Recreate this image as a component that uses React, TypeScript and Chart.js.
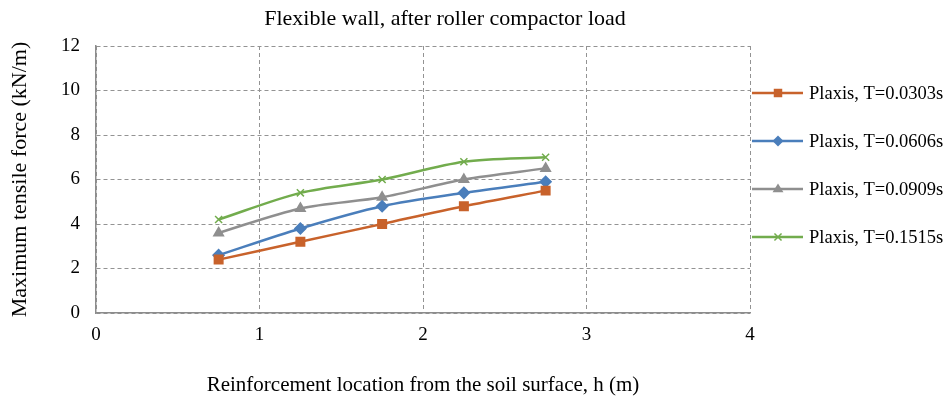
import React, { useEffect, useRef } from "react";
import { Chart, registerables } from "chart.js";

Chart.register(...registerables);

const xValues = [0.75, 1.25, 1.75, 2.25, 2.75];
const seriesNames = [
  "Plaxis, T=0.0303s",
  "Plaxis, T=0.0606s",
  "Plaxis, T=0.0909s",
  "Plaxis, T=0.1515s",
];
const s0303 = [2.4, 3.2, 4.0, 4.8, 5.5];
const s0606 = [2.6, 3.8, 4.8, 5.4, 5.9];
const s0909 = [3.6, 4.7, 5.2, 6.0, 6.5];
const s1515 = [4.2, 5.4, 6.0, 6.8, 7.0];
const seriesValues = [s0303, s0606, s0909, s1515];
const colors = ["#C8622B", "#4A7EBB", "#8F8F8F", "#72AC4D"];
const pointStyles = ["rect", "rectRot", "triangle", "crossRot"];
const pointRadii = [6, 5.5, 5.5, 5];

const titleText = "Flexible wall, after roller compactor load";
const xTitle = "Reinforcement location from the soil surface, h (m)";
const yTitle = "Maximum tensile force (kN/m)";
const FONT = "'Liberation Serif', 'Times New Roman', serif";

export default function App() {
  const ref = useRef<HTMLCanvasElement | null>(null);
  useEffect(() => {
    document.body.style.margin = "0";
    const canvas = ref.current!;
    const overlay = {
      id: "overlay",
      afterDraw(chart: any) {
        const ctx = chart.ctx;
        ctx.save();
        ctx.fillStyle = "#000";
        ctx.font = `22px ${FONT}`;
        ctx.textAlign = "center";
        ctx.textBaseline = "middle";
        ctx.fillText(titleText, 445, 19);
        // legend
        ctx.textAlign = "left";
        ctx.font = `18.5px ${FONT}`;
        const rows = [93, 141, 189, 237];
        seriesNames.forEach((name, i) => {
          const y = rows[i];
          ctx.strokeStyle = colors[i];
          ctx.lineWidth = 2.5;
          ctx.beginPath();
          ctx.moveTo(752, y);
          ctx.lineTo(803, y);
          ctx.stroke();
          ctx.fillStyle = colors[i];
          ctx.strokeStyle = colors[i];
          ctx.lineWidth = 1.5;
          drawMarker(ctx, pointStyles[i], pointRadii[i], 778, y);
          ctx.fillStyle = "#000";
          ctx.fillText(name, 809, y + 1);
        });
        ctx.restore();
      },
    };
    const chart = new Chart(canvas, {
      type: "line",
      data: {
        datasets: seriesValues.map((vals, i) => ({
          label: seriesNames[i],
          data: vals.map((v, j) => ({ x: xValues[j], y: v })),
          borderColor: colors[i],
          backgroundColor: colors[i],
          borderWidth: 2.5,
          pointStyle: pointStyles[i] as any,
          pointRadius: pointRadii[i],
          pointBorderWidth: 1.5,
          pointBackgroundColor: colors[i],
          pointBorderColor: colors[i],
          tension: 0.3,
          fill: false,
        })),
      },
      options: {
        animation: false,
        responsive: false,
        devicePixelRatio: 1,
        layout: { padding: { top: 46, right: 196, left: 0, bottom: 0 } },
        plugins: {
          legend: { display: false },
          tooltip: { enabled: false },
          title: { display: false },
        },
        scales: {
          x: {
            type: "linear",
            min: 0,
            max: 4,
            afterFit: (s: any) => {
              s.height = 83;
            },
            ticks: {
              stepSize: 1,
              color: "#000",
              padding: 11,
              font: { family: FONT, size: 19 },
            },
            grid: {
              color: "#939393",
              lineWidth: 1,
              drawTicks: false,
            },
            border: { display: true, color: "#8C8C8C", width: 1.5, dash: [4, 3] },
            title: {
              display: true,
              text: xTitle,
              color: "#000",
              font: { family: FONT, size: 21 },
              padding: { top: 0, bottom: -2 },
            },
          },
          y: {
            min: 0,
            max: 12,
            afterFit: (s: any) => {
              s.width = 96;
            },
            ticks: {
              stepSize: 2,
              color: "#000",
              padding: 16,
              font: { family: FONT, size: 19 },
            },
            grid: {
              color: "#939393",
              lineWidth: 1,
              drawTicks: false,
            },
            border: { display: true, color: "#8C8C8C", width: 1.5, dash: [4, 3] },
            title: {
              display: true,
              text: yTitle,
              color: "#000",
              font: { family: FONT, size: 22 },
              padding: { top: 7, bottom: 0 },
            },
          },
        },
      },
      plugins: [overlay],
    });
    return () => chart.destroy();
  }, []);
  return (
    <div style={{ width: 946, height: 396, background: "#fff" }}>
      <canvas ref={ref} width={946} height={396} />
    </div>
  );
}

function drawMarker(ctx: CanvasRenderingContext2D, style: string, r: number, x: number, y: number) {
  ctx.beginPath();
  if (style === "rect") {
    const s = r * Math.SQRT1_2;
    ctx.rect(x - s, y - s, 2 * s, 2 * s);
    ctx.fill();
  } else if (style === "rectRot") {
    ctx.moveTo(x, y - r);
    ctx.lineTo(x + r, y);
    ctx.lineTo(x, y + r);
    ctx.lineTo(x - r, y);
    ctx.closePath();
    ctx.fill();
  } else if (style === "triangle") {
    ctx.moveTo(x, y - r);
    ctx.lineTo(x + r, y + r * 0.6);
    ctx.lineTo(x - r, y + r * 0.6);
    ctx.closePath();
    ctx.fill();
  } else {
    const d = r * Math.SQRT1_2;
    ctx.moveTo(x - d, y - d);
    ctx.lineTo(x + d, y + d);
    ctx.moveTo(x + d, y - d);
    ctx.lineTo(x - d, y + d);
    ctx.stroke();
  }
}
